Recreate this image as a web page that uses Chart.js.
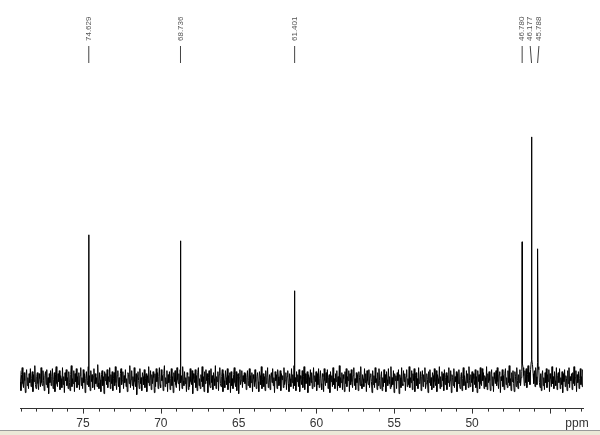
<!DOCTYPE html>
<html>
<head>
<meta charset="utf-8">
<script src="https://cdn.jsdelivr.net/npm/chart.js@4.4.1/dist/chart.umd.min.js"></script>
<style>
  body { margin: 0; background: #fff; }
  #wrap { position: relative; width: 600px; height: 435px; }
  #strip { position: absolute; left: 0; top: 430px; width: 600px; height: 5px; background: #ece9d8; border-top: 1px solid #9a9a9a; }
</style>
</head>
<body>
<div id="wrap">
  <canvas id="nmr" width="600" height="435"></canvas>
  <div id="strip"></div>
</div>
<script>
// peak positions (ppm) and heights
var peakPpm = [74.629, 68.736, 61.401, 46.780, 46.177, 45.788];
var peakHeight = [145, 139, 89, 138, 243, 131];
var peakLabels = ['74.629', '68.736', '61.401', '46.780', '46.177', '45.788'];

// x axis labels
var xTicks = [75, 70, 65, 60, 55, 50];

// baseline noise, sampled evenly from noiseStart to noiseEnd (ppm)
var noiseStart = 79.15;
var noiseEnd = 42.80;
var noise = [
    3,-6,9,-2,-11,5,12,-4,-8,7,-1,-13,4,10,-6,2,-9,6,-3,11,
    -7,1,8,-12,5,-2,14,-5,-9,3,7,-4,-10,6,1,-7,12,-3,-6,9,
    -1,-11,4,8,-5,10,-8,2,-14,6,-3,9,-6,3,11,-9,0,7,-12,5,
    13,-4,-7,6,-2,9,-10,4,1,-8,12,-5,3,-13,7,-1,10,-6,2,-9,
    8,-3,-11,5,14,-7,1,-4,9,-12,6,-2,11,-8,3,-5,7,-10,4,12,
    -6,2,-9,10,-3,6,-13,1,8,-5,-1,13,-7,4,-11,9,-2,5,-8,3,
    11,-10,6,-4,2,-7,15,-3,-9,7,0,-12,5,9,-6,3,-14,8,-1,6,
    -5,10,-8,3,-2,12,-9,5,-4,8,-11,1,7,-6,13,-3,-10,4,9,-7,
    2,-13,6,11,-5,-1,8,-9,4,-3,10,-7,1,-12,7,5,-4,14,-8,0,
    9,-6,3,-10,12,-2,-7,6,-15,4,8,-1,-9,11,-4,2,-11,7,3,-5,
    10,-8,1,6,-12,4,-3,13,-6,-1,9,-10,5,-4,8,2,-13,6,-7,11,
    -2,7,-9,3,12,-5,-8,10,-1,4,-11,6,14,-7,2,-4,9,-12,5,-3,
    8,-10,1,11,-6,3,-13,7,-2,9,-5,-8,12,0,-4,6,-11,10,-3,4,
    -9,13,-1,-6,8,-4,2,-12,7,5,-10,3,-7,11,-2,-5,9,-14,6,1,
    -3,10,-8,4,-11,7,12,-6,1,-9,5,-2,13,-7,3,-12,8,-4,10,-1,
    6,-13,2,9,-5,-8,11,-3,4,-10,7,1,-6,14,-9,3,-2,8,-11,5,
    12,-4,-7,3,10,-12,6,-1,-8,9,2,-5,11,-10,4,-3,7,-13,8,-6,
    1,-9,5,12,-3,-7,8,-11,3,6,-14,2,10,-5,-1,9,-8,4,-2,7,
    -4,6,-10,2,9,-6,-1,11,-8,4,-3,7,-12,5,1,-7,10,-2,-9,3,
    7,-2,-12,8,4,-5,13,-9,0,6,-7,3,-11,9,-4,2,12,-8,-3,5,
    -10,4,7,-3,11,-6,2,-13,8,-1,5,-9,10,3,-6,-2,9,-11,6,0,
    4,-8,12,-5,-1,7,-10,3,9,-4,-12,6,1,-7,11,-3,5,-9,14,-6,
    2,-11,8,-2,5,-7,10,-12,4,1,-5,9,-8,3,13,-10,6,-4,-1,8,
    -13,5,2,-6,10,-3,7,-9,-1,12,-7,4,-2,8,-11,6,-5,11,-8,1,
    9,-4,-10,6,3,-12,11,-1,-6,7,-3,10,-9,2,5,-13,8,-2,4,-7,
    12,-5,1,-9,6,-2,9,-11,3,-6,14,-8,2,-3,7,-10,5,1,-12,8,
    -4,11,-7,3,-1,9,-12,6,-5,10,-2,-8,4,12,-6,1,-10,7,-3,5,
    -11,8,2,-6,13,-4,-9,5,1,-7,11,-3,6,-12,9,-1,-5,10,-8,3,
    6,-2,-13,9,-5,4,-8,12,-3,1,-10,7,-6,11,-1,-9,3,8,-11,2,
    -7,10,-3,5,-12,8,0,-6,11,-4,3,-9,13,-7,2,-5,9,-13,6,-1,
    4,-9,7,-1,10,-14,5,2,-8,12,-4,-6,9,-2,6,-11,3,10,-7,1,
    -5,13,-8,2,-3,9,-10,6,-1,11,-12,4,7,-6,1,-9,12,-4,-2,8,
    -11,3,9,-7,5,-2,12,-9,-4,6,0,-13,8,-3,10,-6,2,-10,7,4,
    -8,11,-2,-6,9,-12,5,1,-4,13,-9,3,-7,8,-1,6,-11,10,-5,2,
    7,-10,4,-3,12,-7,-1,9,-13,5,2,-6,11,-8,3,-2,8,-12,6,-4,
    10,-5,-9,3,7,-11,1,12,-6,4,-2,-10,9,-3,6,-8,13,-1,-7,5,
    -3,8,-12,6,1,-5,10,-8,3,-13,9,-2,5,-9,12,-4,-6,11,-1,7,
    -9,4,2,-7,13,-10,6,-3,8,-1,-11,5,10,-6,3,-12,7,1,-4,9,
    -6,12,-2,-9,5,8,-13,3,-1,10,-7,4,-10,6,11,-5,2,-8,9,-3,
    14,-6,1,-11,7,-2,9,-4,-12,8,3,-7,12,-1,-9,5,-3,10,-6,2,
    8,16,12,4,-6,9,-3,11,-8,5,14,-2,7,-5,10,18,20,15,6,-4,
    9,-7,12,3,-5,17,13,10,-3,-8,6,-11,4,9,-6,2,-10,7,-3,11,
    -8,5,-2,10,-12,6,1,-7,13,-4,3,-9,8,-1,-6,12,-10,4,7,-3,
    11,-9,2,-5,8,-13,6,-2,10,-7,4,1,-11,9,-4,12,-8,3,-1,6,
    -10,7,-4,13,-6,2,9,-12,5,-3,8,-9,1,11,-5,3,-7,10,-2,4
];

var step = (noiseStart - noiseEnd) / (noise.length - 1);
var points = noise.map(function(v, i) {
    return { x: noiseStart - i * step, y: v };
});
peakPpm.forEach(function(p, i) {
    points.push({ x: p, y: peakHeight[i] });
});
points.sort(function(a, b) { return b.x - a.x; });

// minor/major tick marks under the axis line
var tickMarks = {
    id: 'tickMarks',
    afterDraw: function(chart) {
        var sc = chart.scales.x;
        var ctx = chart.ctx;
        ctx.save();
        ctx.strokeStyle = '#333';
        ctx.lineWidth = 1;
        for (var v = Math.ceil(sc.min); v <= Math.floor(sc.max); v++) {
            var px = Math.round(sc.getPixelForValue(v)) + 0.5;
            var len = (v % 5 === 0) ? 5 : 3;
            ctx.beginPath();
            ctx.moveTo(px, sc.top);
            ctx.lineTo(px, sc.top + len);
            ctx.stroke();
        }
        ctx.fillStyle = '#333';
        ctx.font = '12px "Liberation Sans", Arial, sans-serif';
        ctx.textAlign = 'center';
        ctx.textBaseline = 'middle';
        ctx.fillText('ppm', 577, sc.top + 15);
        ctx.restore();
    }
};

// rotated shift labels over the peaks
var peakTags = {
    id: 'peakTags',
    afterDraw: function(chart) {
        var sc = chart.scales.x;
        var ctx = chart.ctx;
        var px = peakPpm.map(function(p) { return sc.getPixelForValue(p); });
        var lx = px.slice();
        var gap = 8.7;
        // spread crowded labels around the group centre
        var i = 0;
        while (i < px.length) {
            var j = i;
            while (j + 1 < px.length && px[j + 1] - px[j] < gap) j++;
            if (j > i) {
                var sum = 0;
                for (var k = i; k <= j; k++) sum += px[k];
                var c = sum / (j - i + 1);
                for (var k2 = i; k2 <= j; k2++) lx[k2] = c + (k2 - i - (j - i) / 2) * gap;
            }
            i = j + 1;
        }
        ctx.save();
        ctx.strokeStyle = '#444';
        ctx.lineWidth = 1;
        ctx.fillStyle = '#555';
        ctx.font = '8px "Liberation Sans", Arial, sans-serif';
        ctx.textAlign = 'left';
        ctx.textBaseline = 'middle';
        for (var n = 0; n < px.length; n++) {
            ctx.beginPath();
            ctx.moveTo(lx[n], 46);
            ctx.lineTo(px[n], 63);
            ctx.stroke();
            ctx.save();
            ctx.translate(lx[n], 41);
            ctx.rotate(-Math.PI / 2);
            ctx.fillText(peakLabels[n], 0, 0);
            ctx.restore();
        }
        ctx.restore();
    }
};

var ctx = document.getElementById('nmr').getContext('2d');
new Chart(ctx, {
    type: 'line',
    data: {
        datasets: [{
            data: points,
            borderColor: '#000',
            borderWidth: 1,
            pointRadius: 0,
            tension: 0,
            fill: false
        }]
    },
    options: {
        responsive: false,
        animation: false,
        parsing: false,
        layout: { padding: { top: 70, left: 20, right: 17, bottom: 1 } },
        plugins: { legend: { display: false }, tooltip: { enabled: false } },
        scales: {
            x: {
                type: 'linear',
                reverse: true,
                min: 42.87,
                max: 79.05,
                afterBuildTicks: function(axis) {
                    axis.ticks = xTicks.map(function(v) { return { value: v }; });
                },
                grid: { display: true, drawOnChartArea: false, color: 'rgba(0,0,0,0)', tickLength: 5 },
                border: { display: true, color: '#333', width: 1 },
                ticks: {
                    color: '#333',
                    padding: 3,
                    maxRotation: 0,
                    font: { family: '"Liberation Sans", Arial, sans-serif', size: 12 }
                }
            },
            y: {
                display: false,
                min: -29,
                max: 310
            }
        }
    },
    plugins: [tickMarks, peakTags]
});
</script>
</body>
</html>
